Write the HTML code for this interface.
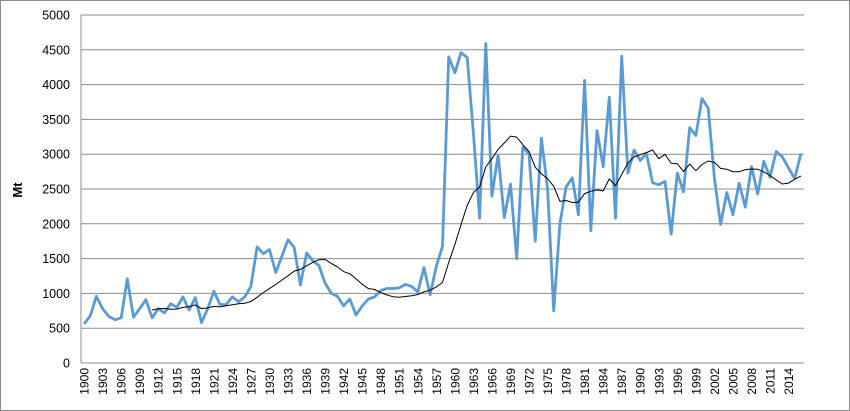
<!DOCTYPE html>
<html><head><meta charset="utf-8"><style>
html,body{margin:0;padding:0;background:#fff;}
svg{display:block;font-family:"Liberation Sans",sans-serif;}
</style></head><body>
<svg id="c" width="850" height="411" viewBox="0 0 850 411" xmlns="http://www.w3.org/2000/svg">
<rect x="0.5" y="0.5" width="849" height="410" fill="#fff" stroke="#8c8c8c"/>
<g id="grid"></g>
<text transform="translate(22,190) rotate(-90)" text-anchor="middle" font-size="13" font-weight="bold" fill="#000">Mt</text>
</svg>
<script>
var d=[560,680,960,780,670,620,650,1210,660,780,910,650,780,720,850,800,950,760,940,580,780,1030,840,840,950,880,950,1100,1670,1570,1630,1300,1530,1770,1660,1120,1580,1470,1400,1150,1000,960,820,920,690,820,920,950,1040,1070,1070,1080,1130,1100,1020,1370,980,1390,1680,4400,4170,4460,4390,3300,2080,4590,2400,2990,2090,2570,1500,3100,3000,1750,3230,2500,750,2000,2530,2660,2130,4060,1900,3340,2820,3820,2080,4410,2730,3060,2910,3010,2590,2560,2610,1850,2730,2460,3380,3270,3800,3660,2660,1990,2450,2130,2580,2240,2820,2430,2900,2670,3040,2960,2800,2650,3010];
var ns="http://www.w3.org/2000/svg",svg=document.getElementById('c'),g=document.getElementById('grid');
function el(t,a,p,txt){var e=document.createElementNS(ns,t);for(var k in a)e.setAttribute(k,a[k]);if(txt!=null)e.textContent=txt;(p||svg).appendChild(e);return e;}
var x0=81,x1=804,y0=363,yT=15,n=d.length,w=(x1-x0)/n;
function X(i){return x0+w*(i+0.5);}function Y(v){return y0-(v/5000)*(y0-yT);}
for(var v=0;v<=5000;v+=500){var y=Y(v);el('line',{x1:x0,x2:x1,y1:y,y2:y,stroke:'#8c8c8c','stroke-width':1},g);
el('text',{x:70,y:y+4.5,'text-anchor':'end','font-size':'12.5',fill:'#000'},g,v);}
el('line',{x1:x0,x2:x0,y1:yT,y2:y0,stroke:'#8c8c8c'},g);
for(var i=0;i<n;i+=3){var xx=X(i);el('text',{transform:'translate('+(xx+4.5)+',368) rotate(-90)','text-anchor':'end','font-size':'12',fill:'#000'},g,1900+i);}
var p='';for(var i=0;i<n;i++)p+=(i?'L':'M')+X(i).toFixed(1)+','+Y(d[i]).toFixed(1);
el('path',{d:p,fill:'none',stroke:'#5b9bd5','stroke-width':2.8,'stroke-linejoin':'round'});
var q='';for(var i=11;i<n;i++){var s=0;for(var j=i-11;j<=i;j++)s+=d[j];q+=(i>11?'L':'M')+X(i).toFixed(1)+','+Y(s/12).toFixed(1);}
el('path',{d:q,fill:'none',stroke:'#000','stroke-width':1});
</script>
</body></html>
